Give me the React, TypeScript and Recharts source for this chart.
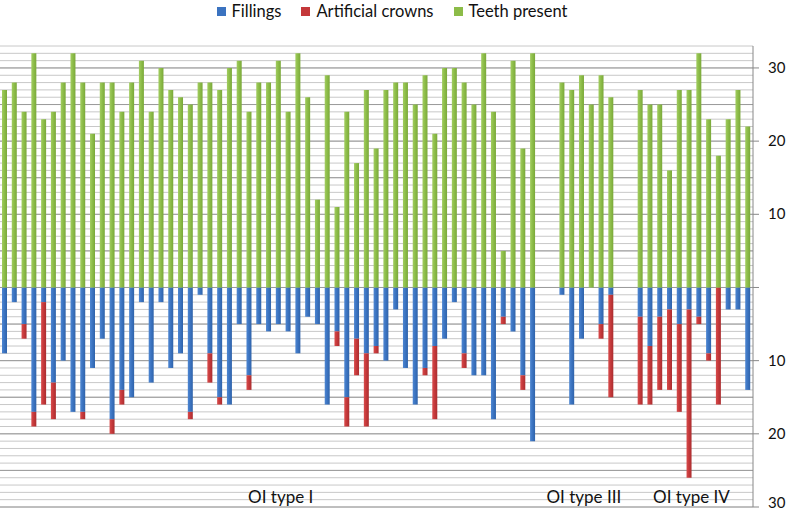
import React from 'react';
import {
    BarChart,
    Bar,
    XAxis,
    YAxis,
    CartesianGrid,
    Legend,
} from 'recharts';

// OI type I (55 patients)
const teethTypeI = [
    27, 28, 24, 32, 23, 24, 28, 32, 28, 21, 28, 28, 24, 28, 31, 24, 30, 27, 26, 25,
    28, 28, 27, 30, 31, 24, 28, 28, 31, 24, 32, 26, 12, 29, 11, 24, 17, 27, 19, 27,
    28, 28, 25, 29, 21, 30, 30, 28, 25, 32, 24, 5, 31, 19, 32,
];
const fillingsTypeI = [
    9, 2, 5, 17, 2, 13, 10, 17, 17, 11, 7, 18, 14, 15, 2, 13, 2, 11, 9, 17,
    1, 9, 15, 16, 5, 12, 5, 6, 5, 6, 9, 4, 5, 16, 6, 15, 7, 9, 8, 10,
    3, 11, 16, 11, 8, 7, 2, 9, 12, 12, 18, 4, 6, 12, 21,
];
const crownsTypeI = [
    0, 0, 2, 2, 14, 5, 0, 0, 1, 0, 0, 2, 2, 0, 0, 0, 0, 0, 0, 1,
    0, 4, 1, 0, 0, 2, 0, 0, 0, 0, 0, 0, 0, 0, 2, 4, 5, 10, 1, 0,
    0, 0, 0, 1, 10, 0, 0, 2, 0, 0, 0, 1, 0, 2, 0,
];

// OI type III
const teethTypeIII = [28, 27, 29, 25, 29, 26];
const fillingsTypeIII = [1, 16, 7, 0, 5, 1];
const crownsTypeIII = [0, 0, 0, 0, 2, 14];

// OI type IV
const teethTypeIV = [27, 25, 25, 16, 27, 27, 32, 23, 18, 23, 27, 22];
const fillingsTypeIV = [4, 8, 4, 3, 5, 3, 4, 9, 0, 3, 3, 14];
const crownsTypeIV = [12, 8, 10, 11, 12, 23, 1, 1, 16, 0, 0, 0];

const groupNames = ['OI type I', 'OI type III', 'OI type IV'];
// category slot under which each group name is written
const groupLabelSlots = [28, 59, 70];

const yTicks = [-30, -20, -10, 0, 10, 20, 30];
const minorGrid = Array.from({ length: 64 }, (_, i) => i - 30);
const majorGrid = minorGrid.filter(v => v % 5 === 0);

const COLORS = {
    fillings: '#3b73c0',
    crowns: '#c4383a',
    teeth: '#8cbc48',
};
const FONT = 'Lato, "Open Sans", sans-serif';

type Row = { slot: string; teeth: number | null; fillings: number | null; crowns: number | null };

function buildRows(): Row[] {
    const groups = [
        [teethTypeI, fillingsTypeI, crownsTypeI],
        [teethTypeIII, fillingsTypeIII, crownsTypeIII],
        [teethTypeIV, fillingsTypeIV, crownsTypeIV],
    ];
    const rows: Row[] = [];
    groups.forEach(([teeth, fillings, crowns], g) => {
        if (g > 0) {
            // two empty slots between the groups
            for (let k = 0; k < 2; k++) {
                rows.push({ slot: `gap${g}-${k}`, teeth: null, fillings: null, crowns: null });
            }
        }
        teeth.forEach((t, i) => {
            rows.push({
                slot: `g${g}-${i}`,
                teeth: t,
                fillings: -fillings[i],
                crowns: -crowns[i],
            });
        });
    });
    return rows;
}

const chartData = buildRows();

const GroupTick = (props: any) => {
    const { x, y, index } = props;
    const g = groupLabelSlots.indexOf(index);
    if (g < 0) return null;
    return (
        <text x={x + 2} y={y - 12} textAnchor="middle" fontSize={17} fill="#111" fontFamily={FONT}>
            {groupNames[g]}
        </text>
    );
};

const ValueTick = (props: any) => {
    const { x, y, payload } = props;
    const v = payload.value;
    return (
        <g>
            <line x1={x - 8} x2={x - 2} y1={y} y2={y} stroke="#888" />
            {v !== 0 && (
                <text x={x + 7} y={Math.min(y + 5, 508)} textAnchor="start" fontSize={15} fill="#111" fontFamily={FONT}>
                    {Math.abs(v)}
                </text>
            )}
        </g>
    );
};

const LegendBox = () => {
    const items = [
        { label: 'Fillings', color: COLORS.fillings },
        { label: 'Artificial crowns', color: COLORS.crowns },
        { label: 'Teeth present', color: COLORS.teeth },
    ];
    return (
        <div style={{ display: 'flex', justifyContent: 'center', marginLeft: -4, fontFamily: FONT, fontSize: 16.5, color: '#111', lineHeight: '20px' }}>
            {items.map(it => (
                <div key={it.label} style={{ display: 'flex', alignItems: 'center', margin: '0 10px' }}>
                    <span style={{ width: 9, height: 9, background: it.color, display: 'inline-block', marginRight: 6 }} />
                    <span>{it.label}</span>
                </div>
            ))}
        </div>
    );
};

export default function App() {
    return (
        <div style={{ position: 'absolute', left: 0, top: 0, width: 788, height: 513, background: '#fff' }}>
            <BarChart
                width={788}
                height={513}
                data={chartData}
                stackOffset="sign"
                barSize={5}
                margin={{ top: 46, right: 0, left: 0, bottom: 0 }}
            >
                <defs>
                    <linearGradient id="gTeeth" x1="0" y1="0" x2="1" y2="0">
                        <stop offset="0%" stopColor="#a2cd60" />
                        <stop offset="50%" stopColor="#8cbc48" />
                        <stop offset="100%" stopColor="#7aa83a" />
                    </linearGradient>
                    <linearGradient id="gFill" x1="0" y1="0" x2="1" y2="0">
                        <stop offset="0%" stopColor="#4d86d2" />
                        <stop offset="50%" stopColor="#3b73c0" />
                        <stop offset="100%" stopColor="#2f63aa" />
                    </linearGradient>
                    <linearGradient id="gCrown" x1="0" y1="0" x2="1" y2="0">
                        <stop offset="0%" stopColor="#d84b4b" />
                        <stop offset="50%" stopColor="#c4383a" />
                        <stop offset="100%" stopColor="#aa2d2f" />
                    </linearGradient>
                </defs>
                <CartesianGrid vertical={false} horizontalValues={minorGrid} stroke="#c8c8c8" />
                <CartesianGrid vertical={false} horizontalValues={majorGrid} stroke="#9a9a9a" />
                <XAxis
                    dataKey="slot"
                    interval={0}
                    height={6}
                    axisLine={false}
                    tickLine={false}
                    tick={<GroupTick />}
                />
                <YAxis
                    orientation="right"
                    type="number"
                    domain={[-30, 33]}
                    ticks={yTicks}
                    interval={0}
                    width={35}
                    axisLine={{ stroke: '#888' }}
                    tickLine={false}
                    tick={<ValueTick />}
                />
                <Legend
                    verticalAlign="middle"
                    align="center"
                    content={<LegendBox />}
                    wrapperStyle={{ top: 1, left: 0, width: 788 }}
                />
                <Bar dataKey="fillings" name="Fillings" stackId="a" fill="url(#gFill)" isAnimationActive={false} />
                <Bar dataKey="crowns" name="Artificial crowns" stackId="a" fill="url(#gCrown)" isAnimationActive={false} />
                <Bar dataKey="teeth" name="Teeth present" stackId="a" fill="url(#gTeeth)" isAnimationActive={false} />
            </BarChart>
        </div>
    );
}
